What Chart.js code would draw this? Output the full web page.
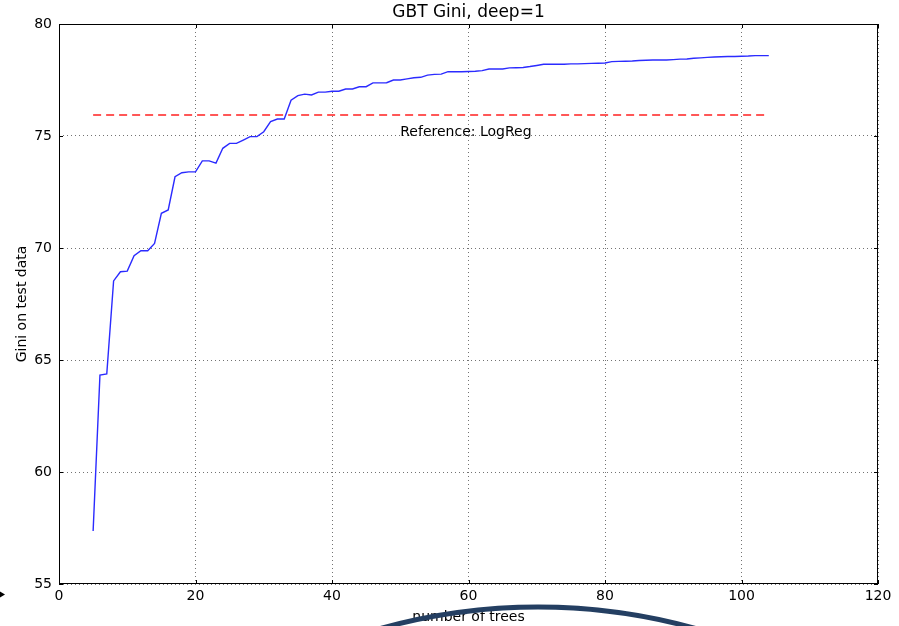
<!DOCTYPE html>
<html>
<head>
<meta charset="utf-8">
<title>GBT Gini, deep=1</title>
<script src="https://cdn.jsdelivr.net/npm/chart.js@4/dist/chart.umd.min.js"></script>
<style>
  html, body { margin: 0; padding: 0; background: #fff; }
  canvas { display: block; }
</style>
</head>
<body>
<canvas id="chart" width="899" height="626"></canvas>
<script>
// Number of trees in the boosted ensemble
const trees = [];
for (let n = 5; n <= 104; n++) trees.push(n);

// Gini on test data for each ensemble size (trees 5 .. 104)
const gini = [
  57.37, 64.33, 64.38, 68.53, 68.94, 68.97, 69.66, 69.88, 69.88, 70.20,
  71.55, 71.70, 73.18, 73.36, 73.40, 73.40, 73.89, 73.89, 73.79, 74.45,
  74.67, 74.67, 74.82, 74.97, 74.97, 75.19, 75.64, 75.76, 75.76, 76.60,
  76.80, 76.87, 76.83, 76.96, 76.96, 77.00, 77.00, 77.10, 77.10, 77.20,
  77.20, 77.37, 77.37, 77.38, 77.50, 77.50, 77.55, 77.60, 77.62, 77.72,
  77.75, 77.76, 77.87, 77.87, 77.87, 77.88, 77.89, 77.92, 77.99, 77.99,
  77.99, 78.04, 78.05, 78.06, 78.10, 78.15, 78.20, 78.20, 78.20, 78.20,
  78.22, 78.22, 78.23, 78.24, 78.25, 78.26, 78.32, 78.33, 78.34, 78.35,
  78.37, 78.38, 78.39, 78.39, 78.39, 78.41, 78.43, 78.44, 78.47, 78.49,
  78.51, 78.53, 78.54, 78.55, 78.55, 78.56, 78.57, 78.59, 78.59, 78.59
];

// Logistic regression baseline
const referenceGini = 75.94;
const referenceLabel = 'Reference: LogReg';
const referenceLabelAt = [50, 75];

// Axis ticks
const xTicks = [0, 20, 40, 60, 80, 100, 120];
const yTicks = [55, 60, 65, 70, 75, 80];

const titleText = 'GBT Gini, deep=1';
const xTitle = 'number of trees';
const yTitle = 'Gini on test data';

const FONT = "'DejaVu Sans', 'Liberation Sans', sans-serif";

// Title, inline label, frame and inward tick marks
const decorations = {
  id: 'decorations',
  afterDatasetsDraw(chart) {
    const { ctx, chartArea: a, scales: { x, y } } = chart;
    ctx.save();
    ctx.fillStyle = '#000';
    ctx.font = '14px ' + FONT;
    ctx.textAlign = 'left';
    ctx.textBaseline = 'alphabetic';
    ctx.fillText(referenceLabel, x.getPixelForValue(referenceLabelAt[0]), y.getPixelForValue(referenceLabelAt[1]));

    // inward ticks on all four sides
    ctx.strokeStyle = '#000';
    ctx.lineWidth = 1;
    ctx.beginPath();
    const len = 4;
    xTicks.forEach(v => {
      const px = Math.round(x.getPixelForValue(v)) + 0.5;
      ctx.moveTo(px, a.bottom); ctx.lineTo(px, a.bottom - len);
      ctx.moveTo(px, a.top); ctx.lineTo(px, a.top + len);
    });
    yTicks.forEach(v => {
      const py = Math.round(y.getPixelForValue(v)) + 0.5;
      ctx.moveTo(a.left, py); ctx.lineTo(a.left + len, py);
      ctx.moveTo(a.right, py); ctx.lineTo(a.right - len, py);
    });
    ctx.stroke();

    // frame
    ctx.strokeRect(a.left + 0.5, a.top + 0.5, a.right - a.left - 1, a.bottom - a.top - 1);

    // title
    ctx.font = '17px ' + FONT;
    ctx.textAlign = 'center';
    ctx.textBaseline = 'middle';
    ctx.fillText(titleText, (a.left + a.right) / 2, 13);
    ctx.restore();
  },
  afterDraw(chart) {
    const { ctx } = chart;
    ctx.save();
    // dark ring sweeping across the bottom edge
    ctx.strokeStyle = '#243f62';
    ctx.lineWidth = 5;
    ctx.beginPath();
    ctx.arc(538, 607 + 588, 588, Math.PI * 1.3, Math.PI * 1.7);
    ctx.stroke();
    // small pointer at the left edge
    ctx.fillStyle = '#000';
    ctx.beginPath();
    ctx.moveTo(0, 591.5);
    ctx.lineTo(5, 594.5);
    ctx.lineTo(0, 597.5);
    ctx.closePath();
    ctx.fill();
    ctx.restore();
  }
};

const gridCommon = {
  color: 'rgba(0,0,0,0.55)',
  lineWidth: 1,
  drawTicks: false
};

new Chart(document.getElementById('chart'), {
  type: 'line',
  data: {
    datasets: [
      {
        label: 'GBT',
        data: trees.map((t, i) => ({ x: t, y: gini[i] })),
        borderColor: '#2b2bff',
        borderWidth: 1.4,
        pointRadius: 0,
        tension: 0,
        fill: false
      },
      {
        label: referenceLabel,
        data: [
          { x: trees[0], y: referenceGini },
          { x: trees[trees.length - 1], y: referenceGini }
        ],
        borderColor: '#ff2020',
        borderWidth: 1.4,
        borderDash: [8, 5],
        pointRadius: 0,
        fill: false
      }
    ]
  },
  options: {
    responsive: false,
    animation: false,
    devicePixelRatio: 1,
    layout: { padding: { top: 24, right: 21, left: 0, bottom: 0 } },
    plugins: {
      legend: { display: false },
      tooltip: { enabled: false },
      title: { display: false }
    },
    scales: {
      x: {
        type: 'linear',
        min: 0,
        max: 120,
        afterFit: s => { s.height = 42; },
        afterBuildTicks: s => { s.ticks = xTicks.map(v => ({ value: v })); },
        grid: gridCommon,
        border: { display: false, dash: [1, 3] },
        ticks: {
          autoSkip: false,
          maxRotation: 0,
          padding: 4,
          color: '#000',
          font: { family: FONT, size: 14 }
        },
        title: {
          display: true,
          text: xTitle,
          color: '#000',
          font: { family: FONT, size: 14 },
          padding: { top: 0, bottom: 0 }
        }
      },
      y: {
        type: 'linear',
        min: 55,
        max: 80,
        afterFit: s => { s.width = 59; },
        afterBuildTicks: s => { s.ticks = yTicks.map(v => ({ value: v })); },
        grid: gridCommon,
        border: { display: false, dash: [1, 3] },
        ticks: {
          padding: 7,
          color: '#000',
          font: { family: FONT, size: 14 }
        },
        title: {
          display: true,
          text: yTitle,
          color: '#000',
          font: { family: FONT, size: 14 },
          padding: { top: 13.6, bottom: 0 }
        }
      }
    }
  },
  plugins: [decorations]
});
</script>
</body>
</html>
